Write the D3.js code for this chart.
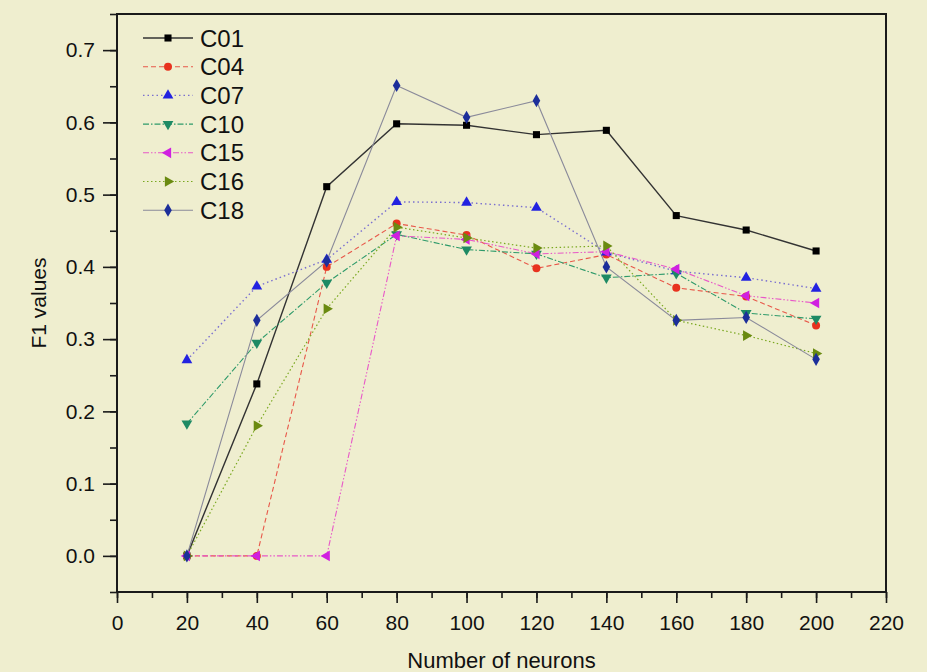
<!DOCTYPE html>
<html>
<head>
<meta charset="utf-8">
<script src="https://cdn.jsdelivr.net/npm/d3@7"></script>
<style>
  body { margin: 0; background: #efeecf; }
  svg { display: block; }
</style>
</head>
<body>
<svg id="chart" width="927" height="672"></svg>
<script>
const neurons = [20, 40, 60, 80, 100, 120, 140, 160, 180, 200];

const c01 = [0, 0.238, 0.511, 0.598, 0.596, 0.583, 0.589, 0.471, 0.451, 0.422];
const c04 = [0, 0, 0.400, 0.460, 0.444, 0.398, 0.417, 0.371, 0.359, 0.319];
const c07 = [0.271, 0.373, 0.410, 0.490, 0.489, 0.482, 0.420, 0.394, 0.385, 0.370];
const c10 = [0.183, 0.295, 0.378, 0.445, 0.424, 0.418, 0.385, 0.391, 0.336, 0.328];
const c15 = [0, 0, 0, 0.443, 0.438, 0.418, 0.421, 0.397, 0.360, 0.350];
const c16 = [0, 0.180, 0.342, 0.455, 0.440, 0.426, 0.429, 0.326, 0.305, 0.280];
const c18 = [0, 0.326, 0.408, 0.651, 0.607, 0.630, 0.400, 0.326, 0.330, 0.272];

const xTicks = [0, 20, 40, 60, 80, 100, 120, 140, 160, 180, 200, 220];
const yTicks = [0, 0.1, 0.2, 0.3, 0.4, 0.5, 0.6, 0.7];

const series = [
  { name: "C01", values: c01, line: "#333", marker: "#000", symbol: d3.symbolSquare, rot: 0, dash: null, width: 1.4 },
  { name: "C04", values: c04, line: "#e8584a", marker: "#e8321e", symbol: d3.symbolCircle, rot: 0, dash: "5,3", width: 1.1 },
  { name: "C07", values: c07, line: "#7a6fd0", marker: "#2222e0", symbol: d3.symbolTriangle, rot: 0, dash: "1.5,3", width: 1.4 },
  { name: "C10", values: c10, line: "#2e9a6a", marker: "#1e8a64", symbol: d3.symbolTriangle, rot: 180, dash: "6,2,1.5,2", width: 1.1 },
  { name: "C15", values: c15, line: "#e858c8", marker: "#d020e0", symbol: d3.symbolTriangle, rot: -90, dash: "6,2,1.5,2,1.5,2", width: 1.1 },
  { name: "C16", values: c16, line: "#7aa820", marker: "#6a8a10", symbol: d3.symbolTriangle, rot: 90, dash: "1.5,2.5", width: 1.2 },
  { name: "C18", values: c18, line: "#8a8a9a", marker: "#1c2e9a", symbol: d3.symbolDiamond, rot: 0, dash: null, width: 1.1 }
];

const margin = { left: 117, right: 41, top: 14, bottom: 80 };
const width = 927, height = 672;
const narrow = "'Liberation Sans Narrow', 'Arial Narrow', 'Liberation Sans', Arial, sans-serif";
const sans = "'Liberation Sans', Arial, sans-serif";

const svg = d3.select("#chart");

const x = d3.scaleLinear()
  .domain([0, 220])
  .range([margin.left, width - margin.right]);

const y = d3.scaleLinear()
  .domain([-0.05, 0.75])
  .range([height - margin.bottom, margin.top]);

// frame
svg.append("rect")
  .attr("x", x(0)).attr("y", y(0.75))
  .attr("width", x(220) - x(0)).attr("height", y(-0.05) - y(0.75))
  .attr("fill", "none").attr("stroke", "#1a1a1a").attr("stroke-width", 2);

// x axis
const gx = svg.append("g")
  .attr("transform", `translate(0,${y(-0.05)})`);
gx.call(d3.axisBottom(x).tickValues(d3.range(0, 221, 10)).tickSize(6).tickFormat(""))
  .call(g => g.select(".domain").remove());
gx.append("g")
  .call(d3.axisBottom(x).tickValues(xTicks).tickSize(11).tickPadding(12).tickFormat(d3.format("d")))
  .call(g => g.select(".domain").remove())
  .selectAll("text")
  .attr("fill", "#111")
  .attr("font-family", sans)
  .attr("font-size", 21);
gx.selectAll("line").attr("stroke", "#1a1a1a").attr("stroke-width", 1.6);

// y axis
const gy = svg.append("g")
  .attr("transform", `translate(${x(0)},0)`);
gy.call(d3.axisLeft(y).tickValues(d3.range(-0.05, 0.751, 0.05)).tickSize(7).tickFormat(""))
  .call(g => g.select(".domain").remove());
gy.append("g")
  .call(d3.axisLeft(y).tickValues(yTicks).tickSize(14).tickPadding(8).tickFormat(d3.format(".1f")))
  .call(g => g.select(".domain").remove())
  .selectAll("text")
  .attr("fill", "#111")
  .attr("font-family", sans)
  .attr("font-size", 21);
gy.selectAll("line").attr("stroke", "#1a1a1a").attr("stroke-width", 1.6);

// axis titles
svg.append("text")
  .attr("x", (x(0) + x(220)) / 2).attr("y", 668)
  .attr("text-anchor", "middle")
  .attr("font-family", narrow)
  .attr("font-size", 22)
  .attr("fill", "#111")
  .text("Number of neurons");

svg.append("text")
  .attr("transform", `translate(46,${(y(-0.05) + y(0.75)) / 2}) rotate(-90)`)
  .attr("text-anchor", "middle")
  .attr("font-family", sans)
  .attr("font-size", 21)
  .attr("fill", "#111")
  .text("F1 values");

// lines
const line = d3.line()
  .x((d, i) => x(neurons[i]))
  .y(d => y(d));

svg.append("g")
  .selectAll("path")
  .data(series)
  .join("path")
  .attr("d", d => line(d.values))
  .attr("fill", "none")
  .attr("stroke", d => d.line)
  .attr("stroke-width", d => d.width)
  .attr("stroke-dasharray", d => d.dash);

// markers
const sym = d3.symbol().size(50);
series.forEach(s => {
  svg.append("g")
    .selectAll("path")
    .data(s.values)
    .join("path")
    .attr("d", sym.type(s.symbol)())
    .attr("transform", (d, i) => `translate(${x(neurons[i])},${y(d)}) rotate(${s.rot})`)
    .attr("fill", s.marker);
});

// legend
const legend = svg.append("g")
  .attr("transform", "translate(143,38)");
const item = legend.selectAll("g")
  .data(series)
  .join("g")
  .attr("transform", (d, i) => `translate(0,${i * 28.7})`);
item.append("line")
  .attr("x1", 0).attr("x2", 50)
  .attr("stroke", d => d.line)
  .attr("stroke-width", d => d.width)
  .attr("stroke-dasharray", d => d.dash);
item.append("path")
  .attr("d", d => d3.symbol().size(50).type(d.symbol)())
  .attr("transform", d => `translate(25,0) rotate(${d.rot})`)
  .attr("fill", d => d.marker);
item.append("text")
  .attr("x", 57).attr("dy", "0.36em")
  .attr("font-family", sans)
  .attr("font-size", 24)
  .attr("fill", "#111")
  .text(d => d.name);
</script>
</body>
</html>
